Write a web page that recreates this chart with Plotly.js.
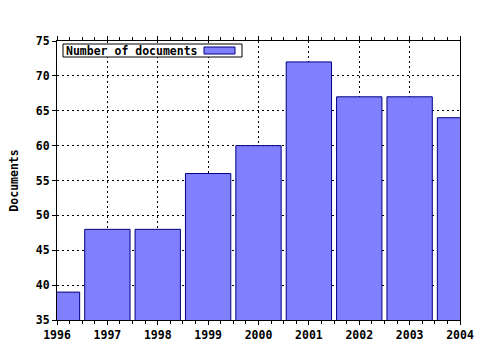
<!DOCTYPE html>
<html>
<head>
<meta charset="utf-8">
<script src="https://cdn.plot.ly/plotly-3.0.1.min.js"></script>
<style>html,body{margin:0;padding:0;background:#fff}#chart{width:480px;height:350px}</style>
</head>
<body>
<div id="chart"></div>
<script>
const years = [1996, 1997, 1998, 1999, 2000, 2001, 2002, 2003, 2004];
const documents = [39, 48, 48, 56, 60, 72, 67, 67, 64];
const seriesName = "Number of documents";
const yTicks = [35, 40, 45, 50, 55, 60, 65, 70, 75];

const FONT = {family: "DejaVu Sans Mono, monospace", size: 11.5, color: "#000", weight: "bold"};

const data = [{
  type: "bar",
  x: years,
  y: documents,
  width: 0.9,
  name: seriesName,
  marker: {color: "#8080ff", line: {color: "#000080", width: 1}},
  showlegend: false
}];

const layout = {
  width: 480, height: 350,
  margin: {l: 57, r: 20, t: 41, b: 30, pad: 0},
  paper_bgcolor: "#fff", plot_bgcolor: "#fff",
  font: FONT,
  showlegend: false,
  xaxis: {
    range: [1996, 2004],
    tickvals: years,
    ticktext: years.map(String),
    ticks: "outside", ticklen: 4, tickcolor: "#000", tickwidth: 1,
    showline: true, linecolor: "#000", linewidth: 1, mirror: "ticks",
    showgrid: true, gridcolor: "#000", griddash: "2px,3px", gridwidth: 1,
    zeroline: false,
    tickfont: FONT,
    minor: {dtick: 0.25, tick0: 1996, ticks: "outside", ticklen: 3, tickcolor: "#000", showgrid: false}
  },
  yaxis: {
    range: [35, 75],
    tickvals: yTicks,
    ticks: "outside", ticklen: 4, tickcolor: "#000",
    showline: true, linecolor: "#000", linewidth: 1, mirror: true,
    showgrid: true, gridcolor: "#000", griddash: "2px,3px", gridwidth: 1,
    zeroline: false,
    tickfont: FONT,
    title: {text: "Documents", font: FONT, standoff: 14}
  },
  shapes: [
    {type: "rect", xref: "paper", yref: "paper",
     x0: 6/403, x1: 185/403, y0: 1 - 16/279, y1: 1 - 3/279,
     fillcolor: "#fff", line: {color: "#000", width: 1}},
    {type: "rect", xref: "paper", yref: "paper",
     x0: 147/403, x1: 178/403, y0: 1 - 13/279, y1: 1 - 6/279,
     fillcolor: "#8080ff", line: {color: "#000080", width: 1}}
  ],
  annotations: [
    {xref: "paper", yref: "paper", x: 7/403, y: 1 - 9.5/279,
     xanchor: "left", yanchor: "middle", showarrow: false,
     text: seriesName, font: FONT}
  ]
};

Plotly.newPlot("chart", data, layout, {staticPlot: true, displayModeBar: false});
</script>
</body>
</html>
